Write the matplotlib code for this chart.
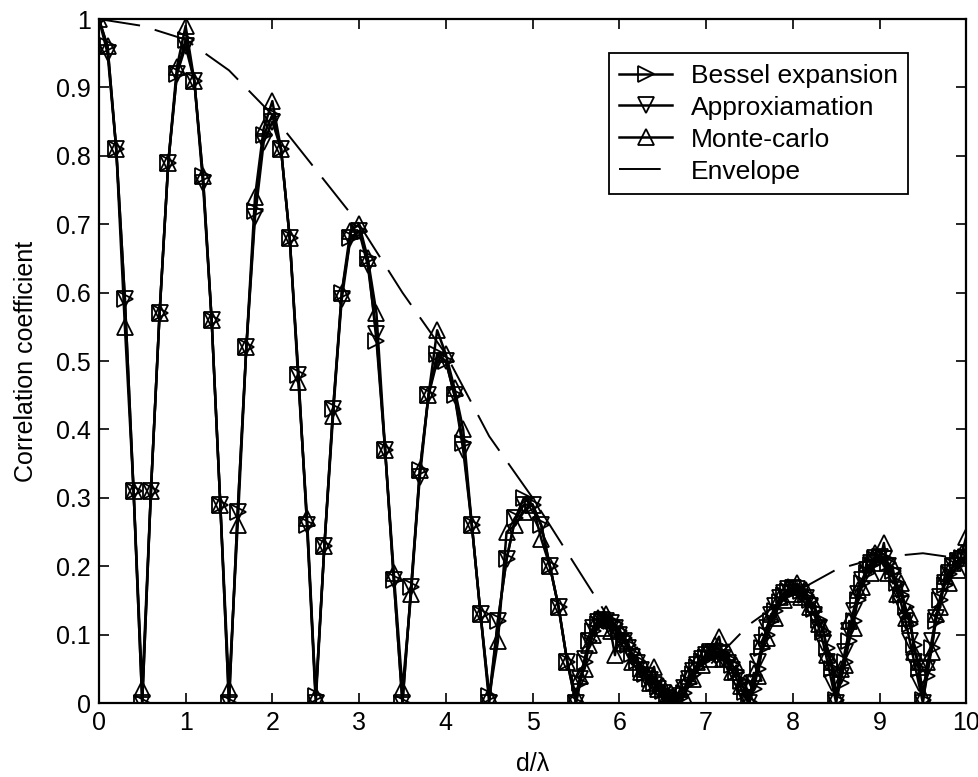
import numpy as np
import matplotlib
matplotlib.use("Agg")
import matplotlib.pyplot as plt

plt.rcParams['font.family'] = ['Liberation Sans', 'DejaVu Sans']
plt.rcParams['lines.scale_dashes'] = False

# sampling grid: 0.1 steps up to 5.4, then 0.05 steps to 10
x_coarse = np.round(np.arange(0.0, 5.45, 0.1), 2)
x_fine = np.round(np.arange(5.5, 10.001, 0.05), 2)
d_lambda = np.concatenate([x_coarse, x_fine])

bessel_coarse = [1.00, 0.96, 0.81, 0.59, 0.31, 0.00, 0.31, 0.57, 0.79, 0.92,
                 0.97, 0.91, 0.77, 0.56, 0.29, 0.00, 0.28, 0.52, 0.72, 0.83,
                 0.86, 0.81, 0.68, 0.48, 0.26, 0.01, 0.23, 0.43, 0.60, 0.68,
                 0.69, 0.65, 0.53, 0.37, 0.18, 0.00, 0.17, 0.34, 0.45, 0.51,
                 0.50, 0.45, 0.38, 0.26, 0.13, 0.01, 0.12, 0.21, 0.27, 0.30,
                 0.29, 0.26, 0.20, 0.14, 0.06]
bessel_fine = [0.00, 0.03, 0.06, 0.09, 0.105, 0.115, 0.12, 0.122, 0.12, 0.115,
               0.105, 0.095, 0.085, 0.072, 0.062, 0.05, 0.042, 0.035, 0.03, 0.024,
               0.018, 0.012, 0.007, 0.005, 0.008, 0.015, 0.03, 0.042, 0.052, 0.062,
               0.068, 0.073, 0.075, 0.074, 0.07, 0.064, 0.056, 0.045, 0.032, 0.016,
               0.002, 0.02, 0.05, 0.08, 0.10, 0.12, 0.135, 0.148, 0.158, 0.164,
               0.167, 0.167, 0.164, 0.158, 0.15, 0.138, 0.122, 0.104, 0.08, 0.05,
               0.005, 0.03, 0.06, 0.09, 0.12, 0.15, 0.175, 0.19, 0.202, 0.21,
               0.213, 0.212, 0.205, 0.193, 0.175, 0.158, 0.14, 0.115, 0.085, 0.05,
               0.005, 0.04, 0.08, 0.12, 0.15, 0.172, 0.188, 0.20, 0.208, 0.212,
               0.213]

approx_coarse = [1.00, 0.95, 0.81, 0.59, 0.31, 0.00, 0.31, 0.57, 0.79, 0.92,
                 0.96, 0.91, 0.76, 0.56, 0.29, 0.00, 0.28, 0.52, 0.71, 0.82,
                 0.85, 0.81, 0.68, 0.48, 0.26, 0.00, 0.23, 0.43, 0.59, 0.68,
                 0.69, 0.64, 0.54, 0.37, 0.18, 0.00, 0.17, 0.33, 0.45, 0.50,
                 0.50, 0.45, 0.37, 0.26, 0.13, 0.00, 0.12, 0.21, 0.27, 0.29,
                 0.29, 0.26, 0.20, 0.14, 0.06]
approx_fine = [0.00, 0.035, 0.065, 0.09, 0.11, 0.118, 0.122, 0.12, 0.117, 0.11,
               0.10, 0.09, 0.08, 0.068, 0.058, 0.048, 0.04, 0.033, 0.027, 0.02,
               0.014, 0.008, 0.003, 0.0, 0.01, 0.022, 0.035, 0.047, 0.056, 0.064,
               0.07, 0.074, 0.074, 0.071, 0.066, 0.058, 0.048, 0.036, 0.022, 0.008,
               0.0, 0.03, 0.06, 0.088, 0.11, 0.128, 0.142, 0.153, 0.161, 0.166,
               0.168, 0.166, 0.161, 0.153, 0.142, 0.128, 0.11, 0.088, 0.06, 0.03,
               0.0, 0.04, 0.075, 0.105, 0.135, 0.16, 0.18, 0.195, 0.205, 0.212,
               0.214, 0.21, 0.20, 0.185, 0.165, 0.145, 0.12, 0.09, 0.06, 0.03,
               0.0, 0.05, 0.09, 0.125, 0.155, 0.175, 0.19, 0.20, 0.207, 0.211,
               0.212]

monte_coarse = [1.00, 0.96, 0.81, 0.55, 0.31, 0.02, 0.31, 0.57, 0.79, 0.93,
                0.99, 0.91, 0.77, 0.56, 0.29, 0.02, 0.26, 0.52, 0.74, 0.84,
                0.88, 0.81, 0.68, 0.47, 0.27, 0.01, 0.23, 0.42, 0.60, 0.69,
                0.70, 0.65, 0.57, 0.37, 0.19, 0.02, 0.16, 0.34, 0.45, 0.545,
                0.51, 0.46, 0.40, 0.26, 0.13, 0.01, 0.09, 0.25, 0.26, 0.28,
                0.29, 0.24, 0.20, 0.14, 0.06]
monte_fine = [0.01, 0.04, 0.05, 0.085, 0.10, 0.125, 0.11, 0.13, 0.105, 0.07,
              0.11, 0.088, 0.09, 0.06, 0.07, 0.045, 0.05, 0.03, 0.053, 0.02,
              0.025, 0.01, 0.015, 0.005, 0.02, 0.01, 0.04, 0.035, 0.06, 0.055,
              0.075, 0.065, 0.085, 0.097, 0.065, 0.075, 0.045, 0.055, 0.025, 0.03,
              0.005, 0.044, 0.04, 0.09, 0.095, 0.13, 0.125, 0.155, 0.15, 0.17,
              0.16, 0.175, 0.155, 0.165, 0.14, 0.145, 0.115, 0.11, 0.07, 0.06,
              0.01, 0.05, 0.055, 0.12, 0.11, 0.165, 0.17, 0.205, 0.19, 0.22,
              0.205, 0.234, 0.19, 0.20, 0.16, 0.175, 0.125, 0.13, 0.075, 0.06,
              0.01, 0.06, 0.075, 0.13, 0.14, 0.185, 0.175, 0.205, 0.195, 0.22,
              0.243]

env_x = [0.0, 0.5, 1.0, 1.5, 2.0, 2.5, 3.0, 3.5, 4.0, 4.5, 5.0, 5.5,
         6.0, 6.3, 6.6, 7.0, 7.5, 8.0, 8.5, 9.0, 9.5, 10.0]
env_y = [1.0, 0.99, 0.97, 0.925, 0.86, 0.78, 0.70, 0.60, 0.51, 0.39, 0.30, 0.20,
         0.10, 0.045, 0.005, 0.05, 0.115, 0.16, 0.195, 0.213, 0.219, 0.21]

bessel = bessel_coarse + bessel_fine
approx = approx_coarse + approx_fine
monte = monte_coarse + monte_fine

fig = plt.figure(figsize=(9.79, 7.77), dpi=100)
ax = fig.add_axes([0.101, 0.0952, 0.886, 0.8803])

mk = dict(color='black', lw=1.8, markersize=12, markerfacecolor='none',
          markeredgecolor='black', markeredgewidth=1.3)
ax.plot(d_lambda, bessel, marker='>', label='Bessel expansion', **mk)
ax.plot(d_lambda, approx, marker='v', label='Approxiamation', **mk)
ax.plot(d_lambda, monte, marker='^', label='Monte-carlo', **mk)
ax.plot(env_x, env_y, color='black', lw=1.4, linestyle=(0, (30, 11)),
        label='Envelope')

ax.set_xlim(0, 10)
ax.set_ylim(0, 1)
ax.set_xticks(range(0, 11))
ax.set_yticks([0, 0.1, 0.2, 0.3, 0.4, 0.5, 0.6, 0.7, 0.8, 0.9, 1])
ax.set_yticklabels(['0', '0.1', '0.2', '0.3', '0.4', '0.5', '0.6', '0.7',
                    '0.8', '0.9', '1'])
ax.tick_params(direction='in', top=True, right=True, length=7, width=1.2,
               labelsize=18, pad=6)
for s in ax.spines.values():
    s.set_linewidth(1.6)

ax.set_xlabel('d/λ', fontsize=18, labelpad=12)
ax.set_ylabel('Correlation coefficient', fontsize=18, labelpad=13)

leg = ax.legend(loc='upper right', bbox_to_anchor=(0.933, 0.95),
                borderaxespad=0, fontsize=19, fancybox=False, frameon=True,
                edgecolor='black', framealpha=1, handlelength=2.0,
                handletextpad=0.7, labelspacing=0.3, borderpad=0.4)
leg.get_frame().set_linewidth(1.3)

fig.savefig('out.png', dpi=100)
